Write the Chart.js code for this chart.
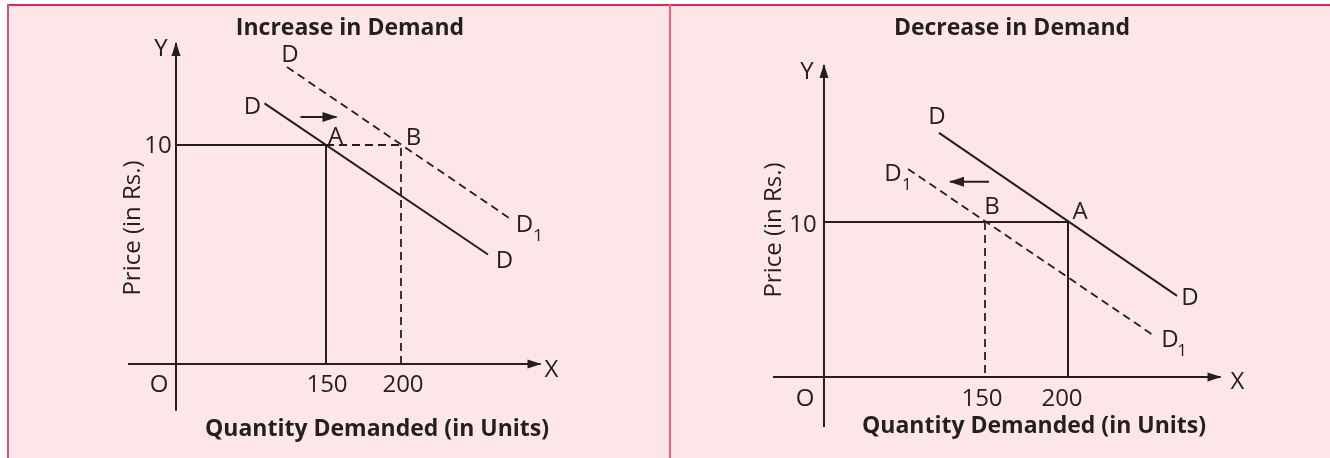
<!DOCTYPE html>
<html><head><meta charset="utf-8">
<script src="https://cdn.jsdelivr.net/npm/chart.js@4.4.0/dist/chart.umd.min.js"></script>
<style>
html,body{margin:0;padding:0;background:#fff;width:1330px;height:458px;overflow:hidden}
#bg{position:absolute;left:7px;top:4px;width:1323px;height:454px;background:#fde6e7}
#topb{position:absolute;left:7px;top:4px;width:1323px;height:2px;background:#e9245c}
#leftb{position:absolute;left:7px;top:4px;width:2px;height:454px;background:#ee4a7d}
#midb{position:absolute;left:669px;top:4px;width:2px;height:454px;background:#f05b8c}
canvas{position:absolute}
#c1{left:9px;top:6px}
#c2{left:671px;top:6px}
</style></head>
<body>
<div id="bg"></div><div id="topb"></div><div id="leftb"></div><div id="midb"></div>
<canvas id="c1" width="660" height="452"></canvas>
<canvas id="c2" width="659" height="452"></canvas>
<script>
// ---------------- data ----------------
const priceLevel = 10;
const priceTickLabel = '10';
const quantityTickLabels = ['150', '200'];
const originLabel = 'O';

// Panel 1: Increase in Demand
const incTitle = 'Increase in Demand';
const incQuantities = [150, 200];          // A, B
const incDemandQ = [109, 258];
const incDemandP = [11.9, 5.0];
const incDemand1Q = [124, 274];
const incDemand1P = [13.56, 6.58];
const incShiftQ = [133, 157];
const incShiftP = [11.28, 11.28];
const incYAxisQ = 50;
const incYAxisP = [-2.14, 14.66];
const incXAxisQ = [18, 293];

// Panel 2: Decrease in Demand
const decTitle = 'Decrease in Demand';
const decQuantities = [150, 200];          // B, A
const decDemandQ = [122.3, 265.7];
const decDemandP = [15.75, 5.23];
const decDemand1Q = [103.6, 251.2];
const decDemand1P = [13.42, 2.71];
const decShiftQ = [152.4, 128.9];
const decShiftP = [12.59, 12.59];
const decYAxisQ = 53;
const decYAxisP = [-3.22, 20.13];
const decXAxisQ = [22.3, 291.9];

const yAxisTitle = 'Price (in Rs.)';
const xAxisTitle = 'Quantity Demanded (in Units)';

// ---------------- styling ----------------
const FONT = '"Open Sans", Lato, sans-serif';
const INK = '#231f20';
const LBL = 24, SUB = 17, TTL = 23;

function pts(qs, ps) { return qs.map((q, i) => ({ x: q, y: ps[i] })); }
function ds(data, dashed, extra) {
  return Object.assign({
    data, borderColor: INK, backgroundColor: INK,
    borderWidth: dashed ? 1.8 : 2, borderDash: dashed ? [8, 5] : [],
    pointRadius: 0, tension: 0, fill: false, borderCapStyle: 'butt'
  }, extra || {});
}

function txt(ctx, s, x, y, size, bold, rot) {
  ctx.save();
  ctx.font = (bold ? 'bold ' : '') + size + 'px ' + FONT;
  ctx.fillStyle = INK;
  ctx.textAlign = 'center';
  ctx.textBaseline = 'alphabetic';
  ctx.translate(x, y);
  if (rot) ctx.rotate(rot);
  ctx.fillText(s, 0, size * 0.357);
  ctx.restore();
}

const diagramPlugin = {
  id: 'diagram',
  afterDatasetsDraw(chart) {
    const ctx = chart.ctx;
    const o = chart.options.plugins.diagram;
    const xs = chart.scales.x, ys = chart.scales.y;
    // arrowheads
    chart.data.datasets.forEach((d, i) => {
      if (!d.arrow) return;
      const m = chart.getDatasetMeta(i).data;
      const a = m[m.length - 2], b = m[m.length - 1];
      const ang = Math.atan2(b.y - a.y, b.x - a.x);
      const L = d.arrow[0], W = d.arrow[1] / 2;
      ctx.save();
      ctx.translate(b.x, b.y); ctx.rotate(ang);
      ctx.fillStyle = INK;
      ctx.beginPath(); ctx.moveTo(1, 0); ctx.lineTo(-L, -W); ctx.lineTo(-L, W); ctx.closePath(); ctx.fill();
      ctx.restore();
    });
    // point labels
    o.labels.forEach(l => {
      const x = xs.getPixelForValue(l.q) + l.dx;
      const y = ys.getPixelForValue(l.p) + l.dy;
      txt(ctx, l.t, x, y, l.s || LBL, false);
    });
    // titles
    txt(ctx, o.title, o.titlePos[0], o.titlePos[1], TTL, true);
    txt(ctx, xAxisTitle, o.xTitlePos[0], o.xTitlePos[1], TTL, true);
    txt(ctx, yAxisTitle, o.yTitlePos[0], o.yTitlePos[1], LBL, false, -Math.PI / 2);
  }
};

function makeChart(id, cfg) {
  const cv = document.getElementById(id);
  const W = cv.width, H = cv.height;
  const xmin = cfg.xAnchorVal - cfg.xAnchorPx / cfg.xPPU;
  const ymax = cfg.yZeroPx / cfg.yPPU;
  return new Chart(cv, {
    type: 'line',
    data: { datasets: cfg.datasets },
    options: {
      responsive: false, animation: false, devicePixelRatio: 1,
      layout: { padding: 0 },
      scales: {
        x: { type: 'linear', display: false, min: xmin, max: xmin + W / cfg.xPPU },
        y: { type: 'linear', display: false, min: ymax - H / cfg.yPPU, max: ymax }
      },
      plugins: {
        legend: { display: false }, tooltip: { enabled: false },
        diagram: cfg.diagram
      },
      clip: false
    },
    plugins: [diagramPlugin]
  });
}

// ---------------- panel 1 ----------------
const [iA, iB] = incQuantities;
makeChart('c1', {
  xAnchorVal: 150, xAnchorPx: 326 - 9, xPPU: 1.5,
  yZeroPx: 364 - 6, yPPU: 21.9,
  datasets: [
    ds([{ x: incYAxisQ, y: incYAxisP[0] }, { x: incYAxisQ, y: incYAxisP[1] }], false, { arrow: [13, 9] }),
    ds([{ x: incXAxisQ[0], y: 0 }, { x: incXAxisQ[1], y: 0 }], false, { arrow: [13, 9] }),
    ds([{ x: incYAxisQ, y: priceLevel }, { x: iA, y: priceLevel }, { x: iA, y: 0 }], false),
    ds([{ x: iA, y: priceLevel }, { x: iB, y: priceLevel }, { x: iB, y: 0 }], true),
    ds(pts(incDemandQ, incDemandP), false),
    ds(pts(incDemand1Q, incDemand1P), true),
    ds(pts(incShiftQ, incShiftP), false, { arrow: [14, 10] })
  ],
  diagram: {
    title: incTitle, titlePos: [350 - 9, 27 - 6],
    xTitlePos: [377 - 9, 428 - 6], yTitlePos: [131.7 - 9, 228 - 6],
    labels: [
      { t: 'D', q: incDemandQ[0], p: incDemandP[0], dx: -12, dy: 2.5 },
      { t: 'D', q: incDemandQ[1], p: incDemandP[1], dx: 16.5, dy: 4.5 },
      { t: 'D', q: incDemand1Q[0], p: incDemand1P[0], dx: 3, dy: -13.5 },
      { t: 'D', q: incDemand1Q[1], p: incDemand1P[1], dx: 12.5, dy: 3.5 },
      { t: '1', q: incDemand1Q[1], p: incDemand1P[1], dx: 26, dy: 15, s: SUB },
      { t: 'A', q: iA, p: priceLevel, dx: 9.5, dy: -10 },
      { t: 'B', q: iB, p: priceLevel, dx: 12.5, dy: -8.5 },
      { t: 'Y', q: incYAxisQ, p: incYAxisP[1], dx: -15, dy: 4 },
      { t: 'X', q: incXAxisQ[1], p: 0, dx: 11, dy: 4 },
      { t: priceTickLabel, q: incYAxisQ, p: priceLevel, dx: -18, dy: -1 },
      { t: originLabel, q: incYAxisQ, p: 0, dx: -17, dy: 19 },
      { t: quantityTickLabels[0], q: iA, p: 0, dx: 1, dy: 19 },
      { t: quantityTickLabels[1], q: iB, p: 0, dx: 2, dy: 19 }
    ]
  }
});

// ---------------- panel 2 ----------------
const [dB, dA] = decQuantities;
makeChart('c2', {
  xAnchorVal: 150, xAnchorPx: 985 - 671, xPPU: 1.66,
  yZeroPx: 377 - 6, yPPU: 15.5,
  datasets: [
    ds([{ x: decYAxisQ, y: decYAxisP[0] }, { x: decYAxisQ, y: decYAxisP[1] }], false, { arrow: [13, 9] }),
    ds([{ x: decXAxisQ[0], y: 0 }, { x: decXAxisQ[1], y: 0 }], false, { arrow: [13, 9] }),
    ds([{ x: decYAxisQ, y: priceLevel }, { x: dA, y: priceLevel }, { x: dA, y: 0 }], false),
    ds([{ x: dB, y: priceLevel }, { x: dB, y: 0 }], true),
    ds(pts(decDemandQ, decDemandP), false),
    ds(pts(decDemand1Q, decDemand1P), true),
    ds(pts(decShiftQ, decShiftP), false, { arrow: [14, 10] })
  ],
  diagram: {
    title: decTitle, titlePos: [1012 - 671, 27 - 6],
    xTitlePos: [1034 - 671, 425 - 6], yTitlePos: [772 - 671, 230 - 6],
    labels: [
      { t: 'D', q: decDemandQ[0], p: decDemandP[0], dx: -2, dy: -17 },
      { t: 'D', q: decDemandQ[1], p: decDemandP[1], dx: 13, dy: 0 },
      { t: 'D', q: decDemand1Q[0], p: decDemand1P[0], dx: -15, dy: 3 },
      { t: '1', q: decDemand1Q[0], p: decDemand1P[0], dx: -1, dy: 15, s: SUB },
      { t: 'D', q: decDemand1Q[1], p: decDemand1P[1], dx: 17, dy: 3 },
      { t: '1', q: decDemand1Q[1], p: decDemand1P[1], dx: 29, dy: 15, s: SUB },
      { t: 'B', q: dB, p: priceLevel, dx: 7, dy: -17 },
      { t: 'A', q: dA, p: priceLevel, dx: 12, dy: -12 },
      { t: 'Y', q: decYAxisQ, p: decYAxisP[1], dx: -17, dy: 5 },
      { t: 'X', q: decXAxisQ[1], p: 0, dx: 17, dy: 3 },
      { t: priceTickLabel, q: decYAxisQ, p: priceLevel, dx: -21, dy: 1 },
      { t: originLabel, q: decYAxisQ, p: 0, dx: -19, dy: 20 },
      { t: quantityTickLabels[0], q: dB, p: 0, dx: -3, dy: 20 },
      { t: quantityTickLabels[1], q: dA, p: 0, dx: -6, dy: 20 }
    ]
  }
});
</script>
</body></html>
